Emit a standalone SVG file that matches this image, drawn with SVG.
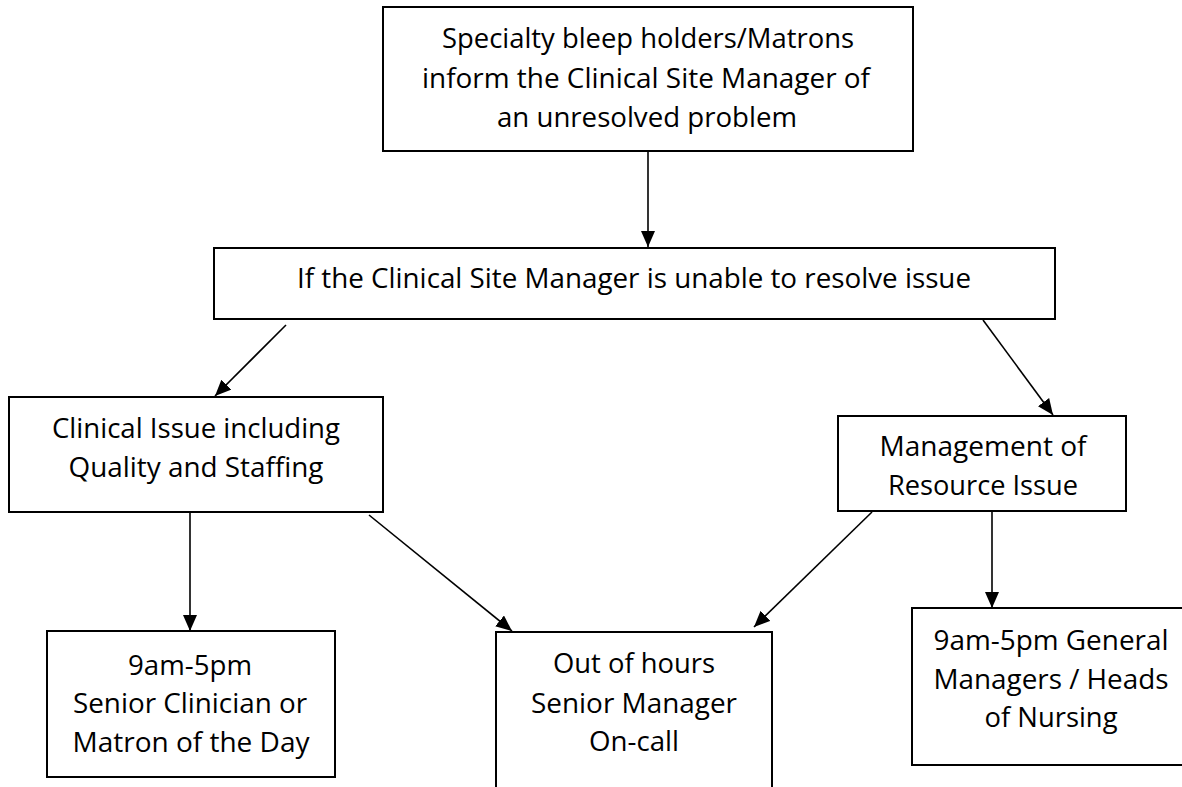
<svg xmlns="http://www.w3.org/2000/svg" width="1182" height="787" viewBox="0 0 1182 787">
<style>
.box{fill:#fff;stroke:#000;stroke-width:2}
.t{font-family:"Open Sans","Noto Sans","Liberation Sans",sans-serif;font-size:28px;fill:#000;text-anchor:middle}
.c{stroke:#000;stroke-width:1.6;fill:none;marker-end:url(#ah)}
</style>
<defs>
<marker id="ah" markerUnits="userSpaceOnUse" markerWidth="16" markerHeight="14" viewBox="0 0 16 14" refX="16" refY="7" orient="auto">
<path d="M0,0 L16,7 L0,14 z" fill="#000"/>
</marker>
</defs>
<rect width="1182" height="787" fill="#fff"/>
<g id="connectors">
<line class="c" x1="648" y1="151" x2="648" y2="247"/>
<line class="c" x1="286" y1="325" x2="215" y2="396"/>
<line class="c" x1="983" y1="320" x2="1053" y2="415"/>
<line class="c" x1="190" y1="513" x2="190" y2="631"/>
<line class="c" x1="369" y1="515" x2="512" y2="631"/>
<line class="c" x1="872" y1="512" x2="754" y2="627"/>
<line class="c" x1="992" y1="512" x2="992" y2="608"/>
</g>
<g id="n1">
<rect class="box" x="383" y="7" width="530" height="144"/>
<text class="t" x="648" y="48" textLength="412" lengthAdjust="spacingAndGlyphs">Specialty bleep holders/Matrons</text>
<text class="t" x="646" y="88" textLength="448" lengthAdjust="spacingAndGlyphs">inform the Clinical Site Manager of</text>
<text class="t" x="647" y="127" textLength="300" lengthAdjust="spacingAndGlyphs">an unresolved problem</text>
</g>
<g id="n2">
<rect class="box" x="214" y="248" width="841" height="71"/>
<text class="t" x="634" y="288" textLength="674" lengthAdjust="spacingAndGlyphs">If the Clinical Site Manager is unable to resolve issue</text>
</g>
<g id="n3">
<rect class="box" x="9" y="397" width="374" height="115"/>
<text class="t" x="196" y="438" textLength="288" lengthAdjust="spacingAndGlyphs">Clinical Issue including</text>
<text class="t" x="196" y="477" textLength="255" lengthAdjust="spacingAndGlyphs">Quality and Staffing</text>
</g>
<g id="n4">
<rect class="box" x="838" y="416" width="288" height="95"/>
<text class="t" x="983" y="456" textLength="207" lengthAdjust="spacingAndGlyphs">Management of</text>
<text class="t" x="983" y="495" textLength="190" lengthAdjust="spacingAndGlyphs">Resource Issue</text>
</g>
<g id="n5">
<rect class="box" x="47" y="631" width="288" height="146"/>
<text class="t" x="190" y="675" textLength="124" lengthAdjust="spacingAndGlyphs">9am-5pm</text>
<text class="t" x="190" y="713" textLength="234" lengthAdjust="spacingAndGlyphs">Senior Clinician or</text>
<text class="t" x="191" y="752" textLength="237" lengthAdjust="spacingAndGlyphs">Matron of the Day</text>
</g>
<g id="n6">
<rect class="box" x="496" y="632" width="276" height="180"/>
<text class="t" x="634" y="673" textLength="162" lengthAdjust="spacingAndGlyphs">Out of hours</text>
<text class="t" x="634" y="713" textLength="206" lengthAdjust="spacingAndGlyphs">Senior Manager</text>
<text class="t" x="634" y="751" textLength="90" lengthAdjust="spacingAndGlyphs">On-call</text>
</g>
<g id="n7">
<rect class="box" x="912" y="608" width="278" height="157"/>
<text class="t" x="1051" y="650" textLength="235" lengthAdjust="spacingAndGlyphs">9am-5pm General</text>
<text class="t" x="1051" y="689" textLength="235" lengthAdjust="spacingAndGlyphs">Managers / Heads</text>
<text class="t" x="1051" y="727" textLength="133" lengthAdjust="spacingAndGlyphs">of Nursing</text>
</g>
</svg>
